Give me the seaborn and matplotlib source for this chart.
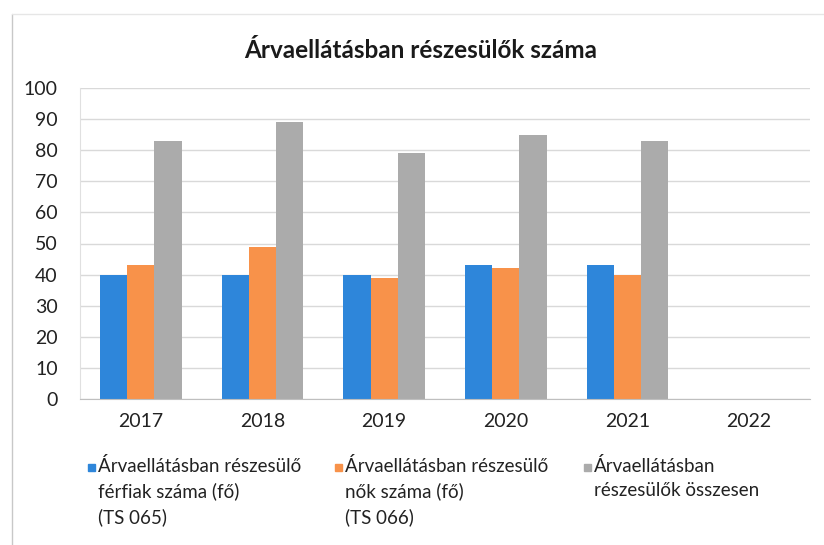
import pandas as pd
import numpy as np
import seaborn as sns
import matplotlib.pyplot as plt
from matplotlib.patches import Rectangle
from matplotlib.lines import Line2D

# Chart data
years = ['2017', '2018', '2019', '2020', '2021', '2022']
ferfiak = [40, 40, 40, 43, 43, np.nan]
nok = [43, 49, 39, 42, 40, np.nan]
osszesen = [83, 89, 79, 85, 83, np.nan]

series_names = ['Árvaellátásban részesülő\nférfiak száma (fő)\n(TS 065)',
                'Árvaellátásban részesülő\nnők száma (fő)\n(TS 066)',
                'Árvaellátásban\nrészesülők összesen']
colors = ['#2E86DA', '#F8924A', '#ABABAB']

data = pd.DataFrame({
    'year': years * 3,
    'value': ferfiak + nok + osszesen,
    'series': [s for s in series_names for _ in years],
})

sns.set_style('white')
plt.rcParams['font.family'] = ['Lato', 'DejaVu Sans']

fig = plt.figure(figsize=(8.24, 5.45), dpi=100)
ax = fig.add_axes([80 / 824, 1 - 399 / 545, 730 / 824, 311 / 545])

sns.barplot(data=data, x='year', y='value', hue='series', order=years,
            hue_order=series_names, palette=colors, width=0.67, gap=0,
            saturation=1, linewidth=0, legend=False, ax=ax)

ax.set_ylim(0, 100)
ax.set_xlim(-0.5, 5.5)
ax.set_yticks(range(0, 101, 10))
ax.yaxis.grid(True, color='#d9d9d9', linewidth=1)
ax.set_axisbelow(True)
ax.set_xlabel('')
ax.set_ylabel('')
ax.tick_params(axis='both', which='major', length=0, labelsize=14, colors='#222222')
ax.tick_params(axis='x', pad=10)
ax.tick_params(axis='y', pad=16)
ax.set_xticks(np.arange(-0.5, 6, 1), minor=True)
ax.tick_params(axis='x', which='minor', length=5, color='#bfbfbf', direction='out')
for side in ['top', 'right']:
    ax.spines[side].set_visible(False)
ax.spines['bottom'].set_color('#bfbfbf')
ax.spines['left'].set_color('#e0e0e0')

fig.text(0.511, 1 - 50 / 545, 'Árvaellátásban részesülők száma', ha='center', va='center',
         fontsize=17.5, fontweight='bold', color='#1a1a1a')

# Legend below the chart
legend_x = [88, 335, 584]
for name, col, lx in zip(series_names, colors, legend_x):
    fig.add_artist(Rectangle((lx / 824, 1 - 471 / 545), 7 / 824, 7 / 545,
                             transform=fig.transFigure, color=col))
    fig.text((lx + 10) / 824, 1 - 457 / 545, name, ha='left', va='top',
             fontsize=13.5, color='#222222', linespacing=1.5)

# Outer chart frame
fig.add_artist(Line2D([12 / 824, 12 / 824], [0, 1 - 14 / 545], color='#c8c8c8', lw=1))
fig.add_artist(Line2D([12 / 824, 1], [1 - 14 / 545, 1 - 14 / 545], color='#e6e6e6', lw=1))

plt.savefig('out.png', dpi=100)
